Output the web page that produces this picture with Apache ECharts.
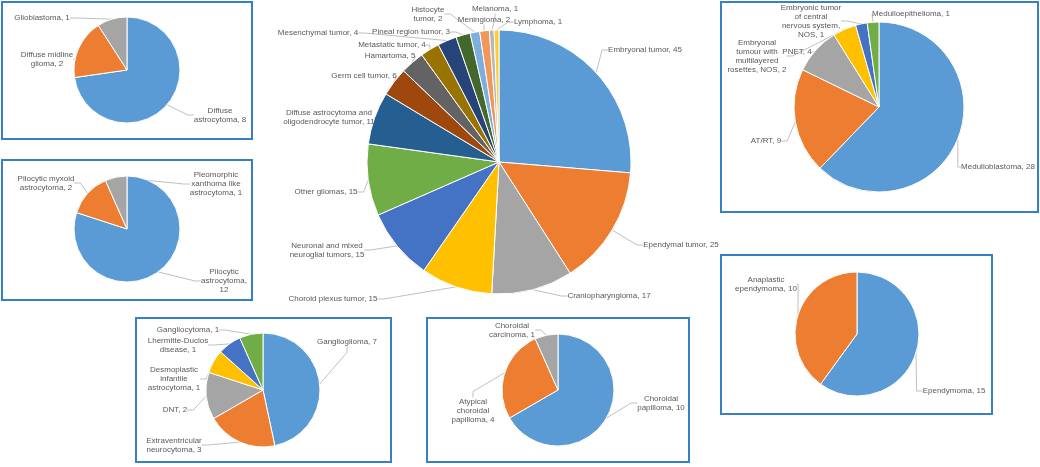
<!DOCTYPE html>
<html><head><meta charset="utf-8">
<script src="https://cdn.jsdelivr.net/npm/echarts@6/dist/echarts.min.js"></script>
<style>html,body{margin:0;padding:0;background:#fff}#c{width:1040px;height:467px}</style>
</head><body><div id="c"></div>
<script>
// ---- data ----
const mainNames = ['Embryonal tumor','Ependymal tumor','Craniopharyngioma','Choroid plexus tumor','Neuronal and mixed\nneuroglial tumors','Other gliomas','Diffuse astrocytoma and\noligodendrocyte tumor','Germ cell tumor','Hamartoma','Metastatic tumor','Mesenchymal tumor','Pineal region tumor','Histocyte\ntumor','Meningioma','Melanoma','Lymphoma'];
const mainValues = [45,25,17,15,15,15,11,6,5,4,4,3,2,2,1,1];

const diffuseNames = ['Diffuse\nastrocytoma','Diffuse midline\nglioma','Glioblastoma'];
const diffuseValues = [8,2,1];

const pilocyticNames = ['Pilocytic\nastrocytoma','Pilocytic myxoid\nastrocytoma','Pleomorphic\nxanthoma like\nastrocytoma'];
const pilocyticValues = [12,2,1];

const neuronalNames = ['Ganglioglioma','Extraventricular\nneurocytoma','DNT','Desmoplastic\ninfantile\nastrocytoma','Lhermitte-Duclos\ndisease','Gangliocytoma'];
const neuronalValues = [7,3,2,1,1,1];

const choroidNames = ['Choroidal\npapilloma','Atypical\nchoroidal\npapilloma','Choroidal\ncarcinoma'];
const choroidValues = [10,4,1];

const ependymalNames = ['Ependymoma','Anaplastic\nependymoma'];
const ependymalValues = [15,10];

const embryonalNames = ['Medulloblastoma','AT/RT','PNET','Embryonal\ntumour with\nmultilayered\nrosettes, NOS','Embryonic tumor\nof central\nnervous system,\nNOS','Medulloepithelioma'];
const embryonalValues = [28,9,4,2,1,1];

// ---- label anchor points (label centres) ----
const mainLabelPos = [[645,50],[681,245],[609,296],[333,299],[327,250],[326,192],[329,117],[364,76],[390,56],[392,45],[318,33],[411,32],[428,14],[484,20],[495,9],[538,22]];
const diffuseLabelPos = [[220,115],[47,59],[42,18]];
const pilocyticLabelPos = [[224,281],[46,183],[216,184]];
const neuronalLabelPos = [[347,342],[174,445],[175,410],[174,379],[178,345],[188,330]];
const choroidLabelPos = [[661,403],[473,411],[512,330]];
const ependymalLabelPos = [[954,391],[766,284]];
const embryonalLabelPos = [[998,167],[766,141],[797,52],[757,56],[811,21],[911,14]];

const palette = ['#5B9BD5','#ED7D31','#A5A5A5','#FFC000','#4472C4','#70AD47','#255E91','#9E480E','#636363','#997300','#264478','#43682B','#7CAFDD','#F1975A','#B7B7B7','#FFCD33'];

function makePie(names, values, center, radius, labelPos, valueBreak) {
  return {
    type: 'pie',
    center: center,
    radius: radius,
    startAngle: 90,
    clockwise: true,
    avoidLabelOverlap: false,
    animation: false,
    data: names.map((n, i) => ({ name: n, value: values[i], itemStyle: { color: palette[i % palette.length] } })),
    itemStyle: { borderColor: '#ffffff', borderWidth: 1 },
    label: {
      show: true,
      position: 'outside',
      fontFamily: 'Liberation Sans, Arial, sans-serif',
      fontSize: 8,
      lineHeight: 9,
      color: '#595959',
      align: 'center',
      formatter: p => p.name + ',' + ((valueBreak && valueBreak.indexOf(p.dataIndex) >= 0) ? '\n' : ' ') + p.value
    },
    labelLine: { show: true, length: 8, length2: 6, smooth: false, lineStyle: { color: '#b0b0b0', width: 0.8 } },
    labelLayout: p => {
      const pos = labelPos[p.dataIndex];
      return { x: pos[0], y: pos[1], align: 'center', verticalAlign: 'middle' };
    },
    emphasis: { disabled: true }
  };
}

const boxes = [[2,2,250,137],[2,160,250,140],[136,318,255,144],[427,318,262,144],[721,255,271,159],[721,2,317,210]];

const chart = echarts.init(document.getElementById('c'), null, { renderer: 'canvas' });
chart.setOption({
  animation: false,
  backgroundColor: '#ffffff',
  graphic: boxes.map(b => ({
    type: 'rect', shape: { x: b[0], y: b[1], width: b[2], height: b[3] },
    style: { fill: null, stroke: '#3a7fc1', lineWidth: 2 }, silent: true, z: 10
  })),
  series: [
    makePie(mainNames, mainValues, [499,162], 132, mainLabelPos),
    makePie(diffuseNames, diffuseValues, [127,70], 53, diffuseLabelPos),
    makePie(pilocyticNames, pilocyticValues, [127,229], 53, pilocyticLabelPos, [0]),
    makePie(neuronalNames, neuronalValues, [263,390], 57, neuronalLabelPos),
    makePie(choroidNames, choroidValues, [558,390], 56, choroidLabelPos),
    makePie(ependymalNames, ependymalValues, [857,334], 62, ependymalLabelPos),
    makePie(embryonalNames, embryonalValues, [879,107], 85, embryonalLabelPos)
  ]
});
</script></body></html>
